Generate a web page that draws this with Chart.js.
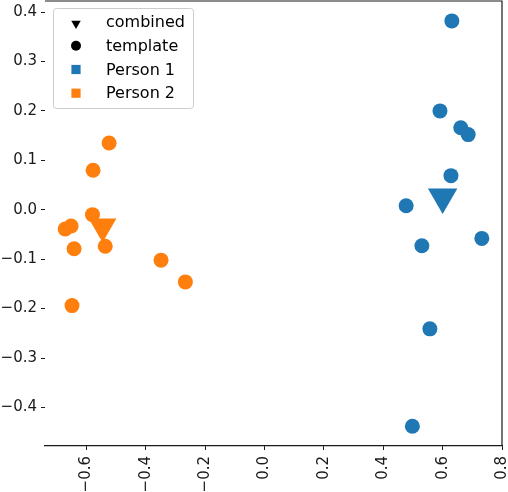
<!DOCTYPE html>
<html>
<head>
<meta charset="utf-8">
<script src="https://cdn.jsdelivr.net/npm/chart.js@4"></script>
<style>
  html, body { margin: 0; padding: 0; background: #fff; }
  #wrap { width: 508px; height: 492px; }
</style>
</head>
<body>
<div id="wrap"><canvas id="chart" width="508" height="492"></canvas></div>
<script>
// template points per person
const person1X = [0.631, 0.591, 0.661, 0.686, 0.628, 0.477, 0.732, 0.530, 0.557, 0.498];
const person1Y = [0.382, 0.200, 0.166, 0.152, 0.069, 0.008, -0.058, -0.073, -0.241, -0.438];
const person2X = [-0.524, -0.578, -0.580, -0.672, -0.652, -0.642, -0.537, -0.349, -0.267, -0.649];
const person2Y = [0.135, 0.080, -0.010, -0.039, -0.033, -0.079, -0.074, -0.102, -0.146, -0.194];

// combined embedding per person
const combinedX = [0.600, -0.546];
const combinedY = [0.026, -0.034];

const xTicks = [-0.6, -0.4, -0.2, 0.0, 0.2, 0.4, 0.6, 0.8];
const yTicks = [-0.4, -0.3, -0.2, -0.1, 0.0, 0.1, 0.2, 0.3, 0.4];

const legendLabels = ["combined", "template", "Person 1", "Person 2"];

const BLUE = "#1f77b4";
const ORANGE = "#ff7f0e";
const INK = "#1a1a1a";
const FONT = "'DejaVu Sans', sans-serif";

const pts = (xs, ys) => xs.map((x, i) => ({ x: x, y: ys[i] }));

function fmt(v) {
  const s = Math.abs(v).toFixed(1);
  return (v < -1e-9 ? "\u2212" : "") + s;
}

// top + right spines (matplotlib box, no left spine visible)
const spines = {
  id: "spines",
  afterDraw(chart) {
    const { ctx, chartArea: a } = chart;
    ctx.save();
    ctx.strokeStyle = INK;
    ctx.lineWidth = 1.2;
    ctx.beginPath();
    ctx.moveTo(a.left, a.top);
    ctx.lineTo(a.right, a.top);
    ctx.lineTo(a.right, a.bottom);
    ctx.stroke();
    ctx.restore();
  }
};

// legend box in the upper left corner
const boxLegend = {
  id: "boxLegend",
  afterDraw(chart) {
    const ctx = chart.ctx;
    const x = 53, y = 8, w = 140, h = 100;
    ctx.save();
    ctx.fillStyle = "rgba(255,255,255,0.8)";
    ctx.strokeStyle = "#cccccc";
    ctx.lineWidth = 1;
    ctx.beginPath();
    ctx.roundRect(x + 0.5, y + 0.5, w, h, 3);
    ctx.fill();
    ctx.stroke();

    const styles = [
      { pointStyle: "triangle", rotation: 180, radius: 5.5, color: "#000" },
      { pointStyle: "circle", rotation: 0, radius: 5, color: "#000" },
      { pointStyle: "rect", rotation: 0, radius: 6.5, color: BLUE },
      { pointStyle: "rect", rotation: 0, radius: 6.5, color: ORANGE }
    ];
    const rows = [22, 45.7, 69.5, 93.2];
    ctx.font = "16px " + FONT;
    ctx.textBaseline = "middle";
    legendLabels.forEach((lbl, i) => {
      const s = styles[i];
      ctx.fillStyle = s.color;
      ctx.strokeStyle = s.color;
      Chart.helpers.drawPoint(ctx, {
        pointStyle: s.pointStyle, rotation: s.rotation, radius: s.radius, borderWidth: 0
      }, 76, rows[i] + (i === 0 ? 1.5 : 0));
      ctx.fillStyle = "#000";
      ctx.fillText(lbl, 106, rows[i] + 1);
    });
    ctx.restore();
  }
};

function noPad(scale) {
  scale.paddingLeft = 0;
  scale.paddingRight = 0;
  scale.paddingTop = 0;
  scale.paddingBottom = 0;
}

new Chart(document.getElementById("chart"), {
  type: "scatter",
  data: {
    datasets: [
      {
        label: "Person 1 combined",
        data: pts(combinedX.slice(0, 1), combinedY.slice(0, 1)),
        backgroundColor: BLUE,
        pointStyle: "triangle",
        rotation: 180,
        pointRadius: 17,
        borderWidth: 0
      },
      {
        label: "Person 2 combined",
        data: pts(combinedX.slice(1), combinedY.slice(1)),
        backgroundColor: ORANGE,
        pointStyle: "triangle",
        rotation: 180,
        pointRadius: 16,
        borderWidth: 0
      },
      {
        label: "Person 1",
        data: pts(person1X, person1Y),
        backgroundColor: BLUE,
        pointRadius: 7.5,
        borderWidth: 0
      },
      {
        label: "Person 2",
        data: pts(person2X, person2Y),
        backgroundColor: ORANGE,
        pointRadius: 7.5,
        borderWidth: 0
      }
    ]
  },
  options: {
    responsive: false,
    animation: false,
    layout: { autoPadding: false, padding: { top: 1, right: 6, left: 0, bottom: 0 } },
    plugins: {
      legend: { display: false },
      tooltip: { enabled: false }
    },
    elements: { point: { hoverRadius: 7.5 } },
    scales: {
      x: {
        type: "linear",
        min: -0.74,
        max: 0.8,
        afterFit(scale) { scale.height = 46; noPad(scale); },
        afterBuildTicks(scale) { scale.ticks = xTicks.map(v => ({ value: v })); },
        border: { display: true, color: INK, width: 1.2 },
        grid: { display: true, drawOnChartArea: false, drawTicks: true, tickLength: 4, color: INK },
        ticks: {
          autoSkip: false,
          minRotation: 90,
          maxRotation: 90,
          padding: 6,
          color: INK,
          font: { family: FONT, size: 15 },
          callback: v => fmt(v)
        }
      },
      y: {
        type: "linear",
        min: -0.478,
        max: 0.4223,
        afterFit(scale) { scale.width = 45; noPad(scale); },
        afterBuildTicks(scale) { scale.ticks = yTicks.map(v => ({ value: v })); },
        border: { display: false },
        grid: { display: true, drawOnChartArea: false, drawTicks: true, tickLength: 4, color: INK },
        ticks: {
          padding: 4,
          color: INK,
          font: { family: FONT, size: 15 },
          callback: v => fmt(v)
        }
      }
    }
  },
  plugins: [spines, boxLegend]
});
</script>
</body>
</html>
